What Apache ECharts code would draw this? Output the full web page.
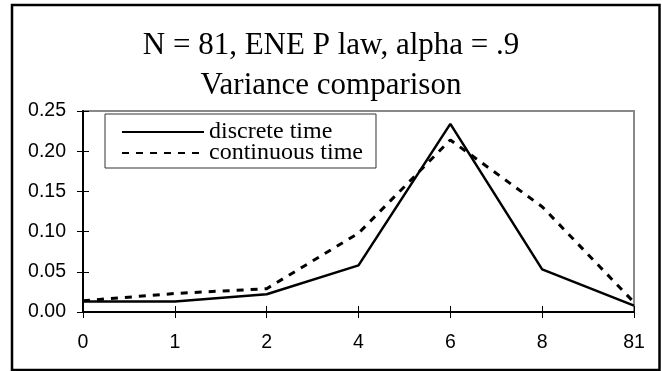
<!DOCTYPE html>
<html>
<head>
<meta charset="utf-8">
<script src="https://cdn.jsdelivr.net/npm/echarts@6/dist/echarts.min.js"></script>
<style>
html,body{margin:0;padding:0;background:#fff;}
#chart{width:662px;height:371px;}
</style>
</head>
<body>
<div id="chart"></div>
<script>
var titleLines = ['N = 81, ENE P law, alpha = .9', 'Variance comparison'];
var categories = ['0', '1', '2', '4', '6', '8', '81'];
var discreteTime = [0.013, 0.013, 0.022, 0.058, 0.234, 0.053, 0.008];
var continuousTime = [0.014, 0.023, 0.029, 0.098, 0.214, 0.131, 0.012];
var seriesNames = ['discrete time', 'continuous time'];
var yMin = 0, yMax = 0.25, yStep = 0.05;

var chart = echarts.init(document.getElementById('chart'), null, {renderer: 'canvas'});
var sans = 'Liberation Sans, Arial, sans-serif';
var serif = 'Liberation Serif, Times New Roman, serif';

var gridPos = {left: 83, right: 28, top: 111, bottom: 59};

function yAxisBase(extra) {
  return Object.assign({
    type: 'value', min: yMin, max: yMax, interval: yStep,
    splitLine: {show: false}
  }, extra);
}
function xAxisBase(extra) {
  return Object.assign({
    type: 'category', data: categories, boundaryGap: false,
    splitLine: {show: false}
  }, extra);
}

chart.setOption({
  backgroundColor: '#fff',
  animation: false,
  title: {
    text: titleLines.join('\n'),
    left: 'center',
    top: 21,
    textStyle: {fontFamily: serif, fontSize: 31, fontWeight: 'normal', color: '#000', lineHeight: 40}
  },
  legend: {
    orient: 'vertical',
    left: 105, top: 114,
    padding: [6, 13, 3, 16],
    itemWidth: 82, itemHeight: 16, itemGap: -3,
    borderColor: '#333', borderWidth: 1,
    backgroundColor: '#fff',
    itemStyle: {opacity: 0},
    textStyle: {fontFamily: serif, fontSize: 24, color: '#000'},
    data: seriesNames
  },
  grid: Object.assign({show: true, borderColor: '#888', borderWidth: 2, backgroundColor: 'transparent'}, gridPos),
  xAxis: [
    xAxisBase({
      axisLine: {show: true, lineStyle: {color: '#000', width: 2}},
      axisTick: {show: true, inside: false, length: 6, lineStyle: {color: '#000', width: 1}},
      axisLabel: {fontFamily: sans, fontSize: 19.5, color: '#000', margin: 21}
    }),
    xAxisBase({
      position: 'bottom',
      axisLine: {show: false},
      axisTick: {show: true, inside: true, length: 6, lineStyle: {color: '#000', width: 1}},
      axisLabel: {show: false}
    })
  ],
  yAxis: [
    yAxisBase({
      axisLine: {show: true, lineStyle: {color: '#000', width: 2}},
      axisTick: {show: true, inside: false, length: 6, lineStyle: {color: '#000', width: 1}},
      axisLabel: {fontFamily: sans, fontSize: 19.5, color: '#000', margin: 17,
        formatter: function (v) { return v.toFixed(2); }}
    }),
    yAxisBase({
      position: 'left',
      axisLine: {show: false},
      axisTick: {show: true, inside: true, length: 6, lineStyle: {color: '#000', width: 1}},
      axisLabel: {show: false}
    })
  ],
  series: [
    {
      name: seriesNames[0], type: 'line', data: discreteTime,
      xAxisIndex: 0, yAxisIndex: 0,
      symbol: 'none', showSymbol: false,
      lineStyle: {color: '#000', width: 2.5, type: 'solid'},
      itemStyle: {color: '#000'}
    },
    {
      name: seriesNames[1], type: 'line', data: continuousTime,
      xAxisIndex: 0, yAxisIndex: 0,
      symbol: 'none', showSymbol: false,
      lineStyle: {color: '#000', width: 3, type: [7, 7]},
      itemStyle: {color: '#000'}
    }
  ],
  graphic: [
    {
      type: 'rect', silent: true, z: 100,
      shape: {x: 12, y: 5, width: 647.5, height: 365},
      style: {fill: 'none', stroke: '#000', lineWidth: 2.5}
    }
  ]
});
</script>
</body>
</html>
